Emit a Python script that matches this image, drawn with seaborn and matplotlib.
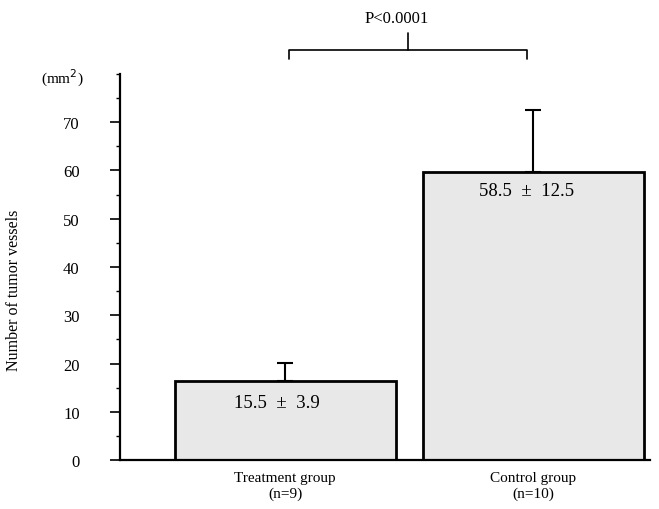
import matplotlib
matplotlib.use("Agg")
import matplotlib.pyplot as plt
import seaborn as sns
from matplotlib.ticker import MultipleLocator

# Data
groups = ["Treatment group\n(n=9)", "Control group\n(n=10)"]
bar_heights = [16.3, 59.6]
upper_errors = [3.9, 13.0]
value_labels = ["15.5  \u00b1  3.9", "58.5  \u00b1  12.5"]
p_text = "P<0.0001"

sns.set_style("ticks", {"text.color": "black", "axes.labelcolor": "black",
                        "xtick.color": "black", "ytick.color": "black",
                        "axes.edgecolor": "black"})
plt.rcParams["font.family"] = ["Liberation Serif", "DejaVu Serif"]

fig = plt.figure(figsize=(6.59, 5.10), dpi=100)
ax = fig.add_axes([0.182, 0.096, 0.804, 0.757])

sns.barplot(x=groups, y=bar_heights, color="#e8e8e8", edgecolor="black",
            linewidth=2, width=0.89, ax=ax, zorder=2)

# upper error whiskers only
ax.errorbar([0, 1], bar_heights, yerr=[[0, 0], upper_errors], fmt="none",
            ecolor="black", elinewidth=1.5, capsize=6, capthick=1.5, zorder=1)

# values inside bars
ax.text(-0.035, 12.0, value_labels[0], ha="center", va="center", fontsize=13.5)
ax.text(0.975, 55.8, value_labels[1], ha="center", va="center", fontsize=13.5)

# significance bracket
ax.plot([0.015, 0.015, 0.975, 0.975], [83.0, 84.9, 84.9, 83.0], color="black",
        lw=1.2, clip_on=False)
ax.plot([0.495, 0.495], [84.9, 88.4], color="black", lw=1.2, clip_on=False)
ax.text(0.45, 90.0, p_text, ha="center", va="bottom", fontsize=12)

ax.set_xlim(-0.667, 1.47)
ax.set_ylim(0, 80)
ax.yaxis.set_major_locator(MultipleLocator(10))
ax.yaxis.set_minor_locator(MultipleLocator(5))
ax.set_yticks(range(0, 80, 10))
ax.tick_params(axis="y", which="major", length=7, width=1.2, labelsize=12, pad=22)
ax.tick_params(axis="y", which="minor", length=3, width=1)
ax.tick_params(axis="x", length=0, labelsize=11, pad=8)
for lbl in ax.get_xticklabels():
    lbl.set_multialignment("center")

sns.despine(ax=ax, top=True, right=True)
ax.spines["left"].set_linewidth(1.6)
ax.spines["bottom"].set_linewidth(1.6)

ax.set_ylabel("Number of tumor vessels", fontsize=11.5)
ax.yaxis.set_label_coords(-0.185, 0.443)
ax.text(-0.90, 79.3, "(mm$^2$)", transform=ax.transData, ha="center",
        va="center", fontsize=11, clip_on=False)

fig.savefig("out.png", dpi=100)
